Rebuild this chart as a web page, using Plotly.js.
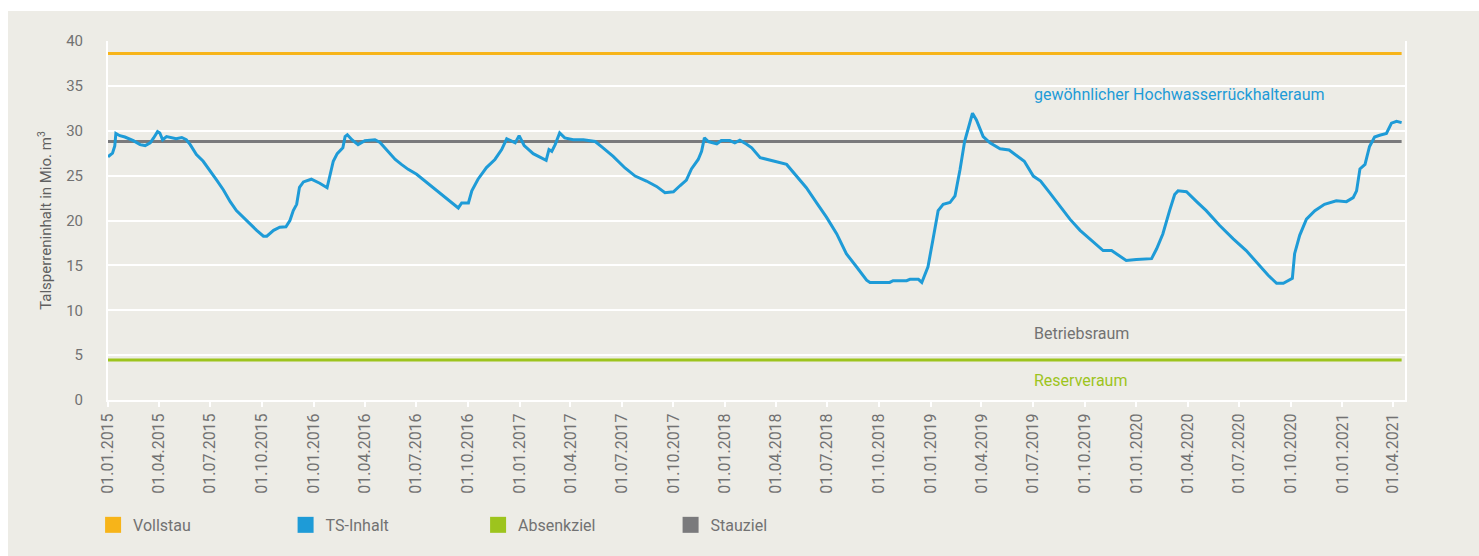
<!DOCTYPE html>
<html>
<head>
<meta charset="utf-8">
<script src="https://cdn.plot.ly/plotly-3.0.1.min.js"></script>
<style>
  html, body { margin: 0; padding: 0; background: #ffffff; }
  #chart { width: 1479px; height: 556px; }
</style>
</head>
<body>
<div id="chart"></div>
<script>
// ---- Data ----
const seriesNames = ["Vollstau", "TS-Inhalt", "Absenkziel", "Stauziel"];

const inhaltDates = [
  "2015-01-01","2015-01-09","2015-01-13","2015-01-15","2015-01-22","2015-01-31","2015-02-15","2015-02-27",
  "2015-03-08","2015-03-17","2015-03-23","2015-03-30","2015-04-03","2015-04-08","2015-04-15","2015-04-24",
  "2015-05-02","2015-05-12","2015-05-20","2015-05-27","2015-06-07","2015-06-19","2015-07-01","2015-07-13",
  "2015-07-25","2015-08-06","2015-08-17","2015-08-29","2015-09-10","2015-09-22","2015-10-04","2015-10-10",
  "2015-10-22","2015-11-02","2015-11-13","2015-11-20","2015-11-26","2015-12-02","2015-12-07","2015-12-14",
  "2015-12-28","2016-01-12","2016-01-25","2016-01-30","2016-02-05","2016-02-12","2016-02-22","2016-02-26",
  "2016-03-01","2016-03-09","2016-03-20","2016-04-01","2016-04-19","2016-04-28","2016-05-10","2016-05-25",
  "2016-06-05","2016-06-17","2016-07-02","2016-07-17","2016-08-01","2016-08-15","2016-08-30","2016-09-14",
  "2016-09-20","2016-10-02","2016-10-08","2016-10-19","2016-11-03","2016-11-18","2016-11-30","2016-12-09",
  "2016-12-16","2016-12-24","2016-12-31","2017-01-09","2017-01-25","2017-02-09","2017-02-17","2017-02-22",
  "2017-02-27","2017-03-05","2017-03-13","2017-03-22","2017-04-06","2017-04-24","2017-05-15","2017-05-29",
  "2017-06-16","2017-07-07","2017-07-25","2017-08-14","2017-09-01","2017-09-16","2017-10-01","2017-10-13",
  "2017-10-24","2017-11-02","2017-11-14","2017-11-20","2017-11-25","2017-12-02","2017-12-17","2017-12-25",
  "2018-01-09","2018-01-18","2018-01-27","2018-02-08","2018-02-17","2018-03-04","2018-03-15","2018-04-02",
  "2018-04-20","2018-05-08","2018-05-25","2018-06-12","2018-06-30","2018-07-18","2018-08-04","2018-08-22",
  "2018-09-09","2018-09-15","2018-10-20","2018-10-26","2018-11-19","2018-11-25","2018-12-10","2018-12-16",
  "2018-12-27","2019-01-05","2019-01-14","2019-01-23","2019-02-04","2019-02-13","2019-02-22","2019-03-02",
  "2019-03-10","2019-03-16","2019-03-23","2019-04-04","2019-04-16","2019-05-04","2019-05-20","2019-06-04",
  "2019-06-16","2019-07-02","2019-07-15","2019-07-31","2019-08-18","2019-09-05","2019-09-23","2019-10-10",
  "2019-11-03","2019-11-18","2019-11-30","2019-12-14","2020-01-01","2020-01-28","2020-02-06","2020-02-17",
  "2020-02-29","2020-03-09","2020-03-15","2020-03-30","2020-04-17","2020-05-04","2020-05-28","2020-06-21",
  "2020-07-14","2020-08-07","2020-08-22","2020-09-06","2020-09-18","2020-10-04","2020-10-08","2020-10-17",
  "2020-10-29","2020-11-13","2020-11-30","2020-12-21","2021-01-08","2021-01-20","2021-01-26","2021-02-01",
  "2021-02-10","2021-02-18","2021-02-27","2021-03-08","2021-03-20","2021-03-29","2021-04-07","2021-04-16"
];

const inhaltValues = [
  27.1, 27.5, 28.3, 29.7, 29.45, 29.3, 28.9, 28.45,
  28.35, 28.65, 29.2, 29.9, 29.75, 29.0, 29.35, 29.2,
  29.1, 29.25, 29.0, 28.45, 27.35, 26.6, 25.6, 24.5,
  23.4, 22.1, 21.1, 20.35, 19.6, 18.9, 18.25, 18.25,
  18.9, 19.25, 19.3, 20.0, 21.1, 21.8, 23.7, 24.3,
  24.6, 24.15, 23.65, 24.95, 26.6, 27.45, 28.1, 29.35,
  29.55, 29.0, 28.45, 28.9, 29.0, 28.7, 27.9, 26.8,
  26.25, 25.7, 25.15, 24.4, 23.65, 22.95, 22.1, 21.4,
  21.95, 21.95, 23.3, 24.6, 25.9, 26.8, 27.9, 29.1,
  28.9, 28.65, 29.45, 28.35, 27.45, 26.9, 26.7, 27.9,
  27.7, 28.45, 29.75, 29.2, 29.0, 29.0, 28.8, 28.1,
  27.15, 25.85, 24.95, 24.4, 23.8, 23.1, 23.2, 23.9,
  24.5, 25.75, 26.8, 27.7, 29.2, 28.8, 28.55, 28.9,
  28.9, 28.65, 28.95, 28.5, 28.1, 27.0, 26.85, 26.55,
  26.25, 24.95, 23.65, 22.0, 20.35, 18.5, 16.3, 14.85,
  13.35, 13.1, 13.1, 13.3, 13.3, 13.45, 13.45, 13.1,
  14.85, 17.95, 21.1, 21.8, 22.0, 22.75, 25.7, 28.8,
  30.65, 31.95, 31.2, 29.35, 28.65, 28.0, 27.85, 27.15,
  26.6, 24.95, 24.4, 23.1, 21.65, 20.15, 18.9, 17.95,
  16.65, 16.65, 16.1, 15.55, 15.65, 15.75, 16.85, 18.5,
  21.1, 22.9, 23.3, 23.2, 22.1, 21.1, 19.45, 17.95,
  16.65, 15.0, 13.9, 13.0, 13.0, 13.55, 16.3, 18.35,
  20.15, 21.1, 21.8, 22.2, 22.1, 22.55, 23.3, 25.75,
  26.25, 28.25, 29.3, 29.5, 29.7, 30.85, 31.05, 30.9
];

const levelDates = ["2015-01-01", "2021-04-16"];
const vollstau = [38.6, 38.6];
const stauziel = [28.8, 28.8];
const absenkziel = [4.45, 4.45];

const zoneLabels = ["gewöhnlicher Hochwasserrückhalteraum", "Betriebsraum", "Reserveraum"];
const zoneLevels = [34.0, 7.4, 2.2];

const yTitle = "Talsperreninhalt in Mio. m<sup>3</sup>";

// ---- Styling ----
const C = {
  orange: "#F7B419",
  blue: "#1E9BD7",
  green: "#9DC41D",
  gray: "#7A7A7C",
  text: "#727272",
  bg: "#EDECE6"
};
const FONT = "Roboto, 'Open Sans', sans-serif";

const lineTrace = (x, y, color, name) => ({
  type: "scatter", mode: "lines", x: x, y: y, name: name,
  line: { color: color, width: 3 }, showlegend: false, hoverinfo: "x+y+name"
});
const legendTrace = (color, name) => ({
  type: "scatter", mode: "markers", x: [null], y: [null], name: name,
  marker: { symbol: "square", size: 16, color: color }, showlegend: true, hoverinfo: "skip"
});

const traces = [
  lineTrace(levelDates, vollstau, C.orange, seriesNames[0]),
  lineTrace(levelDates, absenkziel, C.green, seriesNames[2]),
  lineTrace(levelDates, stauziel, C.gray, seriesNames[3]),
  lineTrace(inhaltDates, inhaltValues, C.blue, seriesNames[1]),
  legendTrace(C.orange, seriesNames[0]),
  legendTrace(C.blue, seriesNames[1]),
  legendTrace(C.green, seriesNames[2]),
  legendTrace(C.gray, seriesNames[3])
];

const zoneColors = [C.blue, C.text, C.green];
const annotations = zoneLabels.map((t, i) => ({
  text: t, xref: "paper", yref: "y", x: 0.7124, y: zoneLevels[i],
  xanchor: "left", yanchor: "middle", showarrow: false,
  font: { family: FONT, size: 16, color: zoneColors[i] }
}));

const layout = {
  width: 1479, height: 556,
  margin: { l: 108, r: 74, t: 41, b: 156, pad: 0 },
  paper_bgcolor: "#ffffff",
  plot_bgcolor: C.bg,
  font: { family: FONT, color: C.text },
  showlegend: true,
  legend: {
    orientation: "h", x: -0.0115, xanchor: "left", y: -0.348, yanchor: "middle",
    entrywidth: 147.5, entrywidthmode: "pixels", itemwidth: 30,
    font: { family: FONT, size: 16, color: C.text }, bgcolor: "rgba(0,0,0,0)",
    traceorder: "normal"
  },
  xaxis: {
    type: "date",
    range: ["2015-01-01", "2021-04-22"],
    tickmode: "linear", tick0: "2015-01-01", dtick: "M3",
    tickformat: "%d.%m.%Y", tickangle: -90,
    ticks: "outside", ticklen: 5, tickwidth: 2, tickcolor: "#ffffff",
    showgrid: false, zeroline: false,
    showline: true, linecolor: "#ffffff", linewidth: 2,
    tickfont: { family: FONT, size: 16, color: C.text },
    automargin: false, fixedrange: true
  },
  yaxis: {
    range: [0, 40], dtick: 5, tick0: 0,
    showgrid: true, gridcolor: "#ffffff", gridwidth: 2,
    zeroline: false, showline: true, linecolor: "#ffffff", linewidth: 2, mirror: true,
    ticks: "", ticklabelstandoff: 20,
    tickfont: { family: FONT, size: 15, color: C.text },
    title: { text: yTitle, standoff: 11, font: { family: FONT, size: 15, color: "#5f5f5f" } },
    automargin: false, fixedrange: true
  },
  shapes: [{
    type: "rect", xref: "paper", yref: "paper", layer: "below",
    x0: (8 - 108) / 1297, x1: (1479 - 108) / 1297,
    y0: (400 - 556) / 359, y1: (400 - 11) / 359,
    fillcolor: C.bg, line: { width: 0 }
  }],
  annotations: annotations,
  hovermode: "closest"
};

Plotly.newPlot("chart", traces, layout, { displayModeBar: false, staticPlot: false });
</script>
</body>
</html>
